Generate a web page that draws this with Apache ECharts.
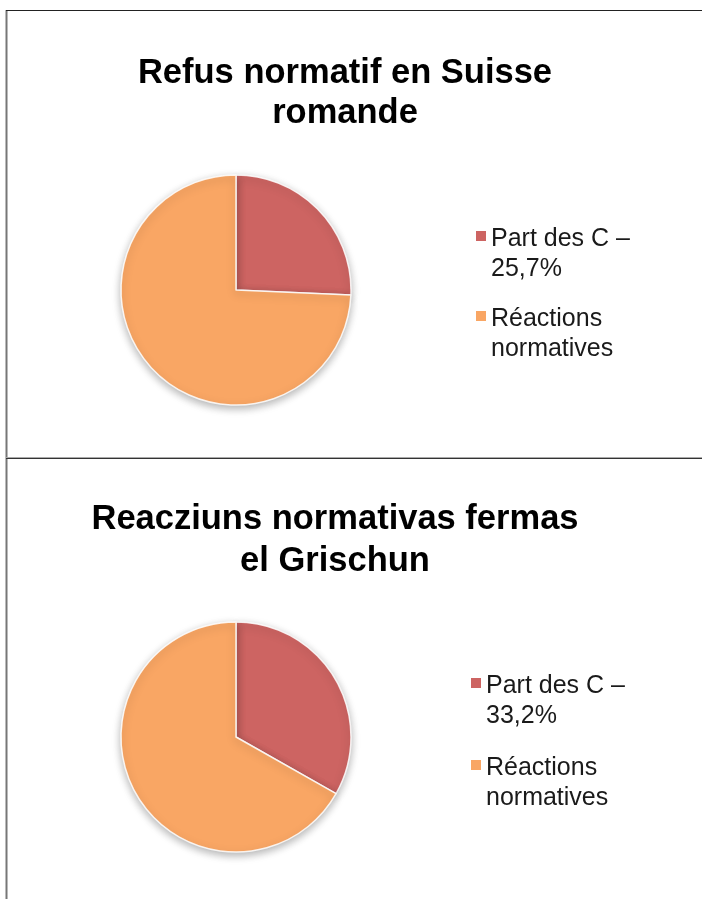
<!DOCTYPE html>
<html>
<head>
<meta charset="utf-8">
<script src="https://cdn.jsdelivr.net/npm/echarts@6/dist/echarts.min.js"></script>
<style>
html,body{margin:0;padding:0;background:#fff;}
#chart{width:702px;height:899px;}
</style>
</head>
<body>
<div id="chart"></div>
<script>
// ---- data ----
const titleTop = 'Refus normatif en Suisse\nromande';
const titleBottom = 'Reacziuns normativas fermas\nel Grischun';
const categoriesTop = ['Part des C –\n25,7%', 'Réactions\nnormatives'];
const valuesTop = [25.7, 74.3];
const categoriesBottom = ['Part des C –\n33,2%', 'Réactions\nnormatives'];
const valuesBottom = [33.2, 66.8];
const colors = ['#CD6462', '#F9A664'];

const font = '"Liberation Sans", Arial, Helvetica, sans-serif';
const chart = echarts.init(document.getElementById('chart'), null, {renderer: 'canvas'});

function toData(names, vals) {
  return names.map((n, i) => ({name: n, value: vals[i], itemStyle: {color: colors[i]}}));
}

const legendIcon = 'path://M0,0L10,0L10,10L0,10Z M0,46L0,46';

function pieSeries(center, names, vals) {
  return {
    type: 'pie',
    center: center,
    radius: [0, 115],
    startAngle: 90,
    clockwise: true,
    silent: true,
    label: {show: false},
    labelLine: {show: false},
    emphasis: {disabled: true},
    itemStyle: {
      borderColor: 'rgba(255,255,255,0.85)',
      borderWidth: 1.5,
      shadowBlur: 9,
      shadowOffsetY: 3,
      shadowColor: 'rgba(0,0,0,0.3)'
    },
    data: toData(names, vals)
  };
}

function legend(left, top, names, gap) {
  return {
    orient: 'vertical',
    left: left,
    top: top,
    padding: 0,
    itemGap: gap,
    itemWidth: 10,
    itemHeight: 46,
    icon: legendIcon,
    selectedMode: false,
    data: names,
    itemStyle: {borderWidth: 0, shadowBlur: 0, shadowOffsetY: 0, shadowColor: 'transparent'},
    textStyle: {fontFamily: font, fontSize: 25, lineHeight: 30, color: '#1a1a1a'}
  };
}

chart.setOption({
  animation: false,
  legend: [
    legend(476, 224, categoriesTop, 20),
    legend(471, 671, categoriesBottom, 22)
  ],
  series: [
    pieSeries([236, 290], categoriesTop, valuesTop),
    pieSeries([236, 737], categoriesBottom, valuesBottom)
  ],
  graphic: [
    {type: 'line', shape: {x1: 6.5, y1: 10, x2: 6.5, y2: 899}, style: {stroke: '#777', lineWidth: 2}, silent: true},
    {type: 'line', shape: {x1: 6, y1: 10.5, x2: 702, y2: 10.5}, style: {stroke: '#222', lineWidth: 1}, silent: true},
    {type: 'line', shape: {x1: 6, y1: 457.5, x2: 702, y2: 457.5}, style: {stroke: '#aaa', lineWidth: 1}, silent: true},
    {type: 'line', shape: {x1: 6, y1: 458.5, x2: 702, y2: 458.5}, style: {stroke: '#333', lineWidth: 1}, silent: true},
    {type: 'text', x: 345, y: 93, silent: true,
      style: {text: titleTop, align: 'center', verticalAlign: 'middle', font: 'bold 34.5px ' + font, lineHeight: 40, fill: '#000'}},
    {type: 'text', x: 335, y: 540, silent: true,
      style: {text: titleBottom, align: 'center', verticalAlign: 'middle', font: 'bold 34.5px ' + font, lineHeight: 42, fill: '#000'}}
  ]
});
</script>
</body>
</html>
